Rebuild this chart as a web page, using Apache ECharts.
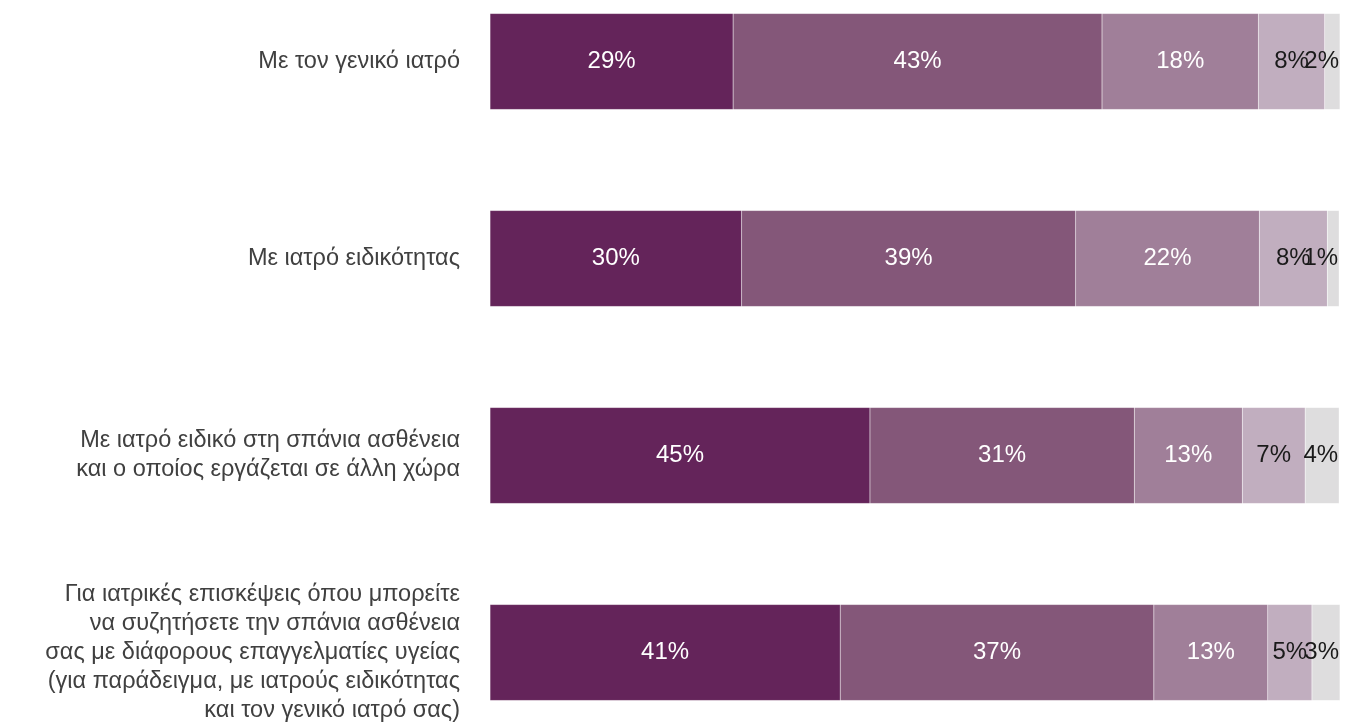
<!DOCTYPE html>
<html>
<head>
<meta charset="utf-8">
<script src="https://cdn.jsdelivr.net/npm/echarts@6/dist/echarts.min.js"></script>
<style>
html,body{margin:0;padding:0;background:#fff;overflow:hidden;width:1345px;height:726px;}
#c{position:absolute;left:0;top:-37px;width:1345px;height:788px;}
</style>
</head>
<body>
<div id="c"></div>
<script>
var categories = [
  'Με τον γενικό ιατρό',
  'Με ιατρό ειδικότητας',
  'Με ιατρό ειδικό στη σπάνια ασθένεια\nκαι ο οποίος εργάζεται σε άλλη χώρα',
  'Για ιατρικές επισκέψεις όπου μπορείτε\nνα συζητήσετε την σπάνια ασθένεια\nσας με διάφορους επαγγελματίες υγείας\n(για παράδειγμα, με ιατρούς ειδικότητας\nκαι τον γενικό ιατρό σας)'
];
var series1 = [28.6, 29.6, 44.7, 41.2];
var series2 = [43.4, 39.3, 31.1, 36.9];
var series3 = [18.4, 21.6, 12.7, 13.4];
var series4 = [7.8, 8.0, 7.4, 5.2];
var series5 = [1.8, 1.4, 4.0, 3.3];

var colors = ['#64245A', '#845779', '#A07F99', '#C1AEBF', '#DEDDDE'];
var labelColors = ['#ffffff', '#ffffff', '#ffffff', '#1a1a1a', '#1a1a1a'];
var FONT = '"Liberation Sans", Arial, sans-serif';

function mk(data, i) {
  return {
    type: 'bar',
    stack: 'all',
    data: data,
    barWidth: 96,
    itemStyle: { color: colors[i], borderColor: 'rgba(255,255,255,0.2)', borderWidth: 0.5 },
    label: {
      show: true,
      position: i === 4 ? 'insideRight' : 'inside',
      distance: 1,
      color: labelColors[i],
      fontSize: 24,
      fontFamily: FONT,
      formatter: function (p) { return Math.round(p.value) + '%'; }
    },
    emphasis: { disabled: true }
  };
}

var chart = echarts.init(document.getElementById('c'));
chart.setOption({
  animation: false,
  grid: { left: 490, right: 5, top: 0, bottom: 0, containLabel: false },
  xAxis: { type: 'value', min: 0, max: 100, show: false },
  yAxis: {
    type: 'category',
    data: categories,
    inverse: true,
    axisLine: { show: false },
    axisTick: { show: false },
    axisLabel: { color: '#404040', fontSize: 23.5, fontFamily: FONT, margin: 30, lineHeight: 29, align: 'right' }
  },
  series: [mk(series1, 0), mk(series2, 1), mk(series3, 2), mk(series4, 3), mk(series5, 4)]
});
</script>
</body>
</html>
